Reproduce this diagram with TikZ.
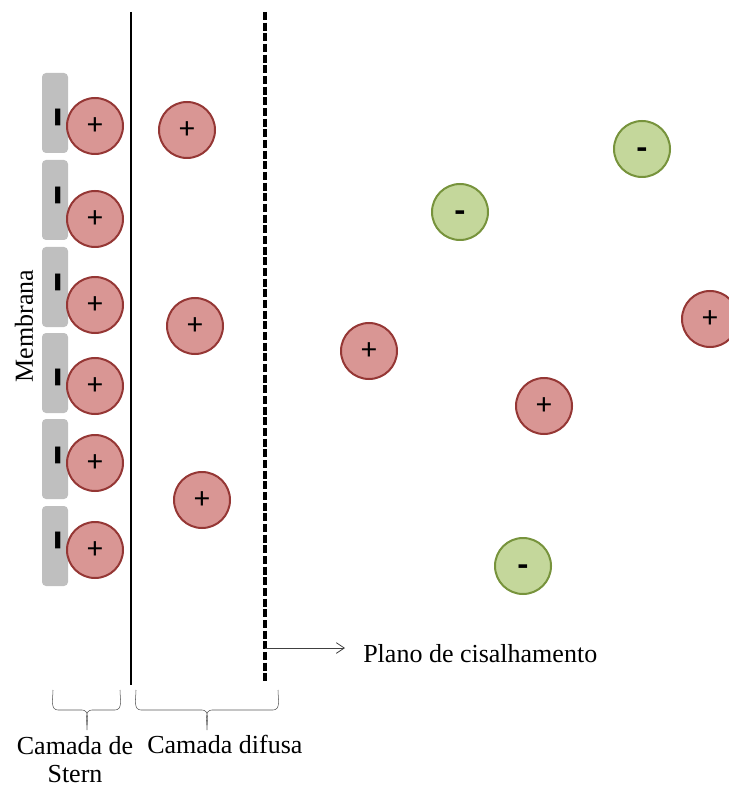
\documentclass[tikz,border=0pt]{standalone}
\usepackage{fontspec}
\setmainfont{Liberation Serif}
\newfontfamily\signfont{Carlito}
\usepackage{tikz}
\usetikzlibrary{shapes.geometric, arrows, arrows.meta}
\definecolor{catfill}{RGB}{217,150,148}
\definecolor{catdraw}{RGB}{149,55,53}
\definecolor{anfill}{RGB}{196,215,155}
\definecolor{andraw}{RGB}{119,147,60}
\definecolor{membgray}{RGB}{191,191,191}
\tikzstyle{cation} = [circle, draw=catdraw, fill=catfill, line width=1.5pt, minimum size=42pt, inner sep=0pt, font=\signfont\fontsize{23}{23}\selectfont]
\tikzstyle{anion} = [circle, draw=andraw, fill=anfill, line width=1.5pt, minimum size=42pt, inner sep=0pt, text height=15.6pt, text depth=0pt, font=\signfont\bfseries\fontsize{26}{26}\selectfont]
\tikzstyle{site} = [rectangle, rounded corners=3pt, fill=membgray, minimum width=19.5pt, minimum height=60pt, inner sep=0pt]
\tikzstyle{charge} = [rotate=90, inner sep=0pt, text height=32pt, text depth=0pt, font=\signfont\fontsize{54}{54}\selectfont]
\tikzstyle{layertext} = [inner sep=0pt, font=\fontsize{19.5}{21}\selectfont]
\tikzstyle{arrow} = [semithick,->,>={Straight Barb[length=6pt,width=8pt]}]

\begin{document}
\begin{tikzpicture}[x=0.75pt,y=-0.75pt]
\useasboundingbox (0,0) rectangle (728,787);

% membrane with adsorbed cations (Stern layer)
\foreach \i/\ys/\yb/\yc in {1/113/117/126, 2/200/195/219, 3/287/282/305, 4/373/377/386, 5/459/455/463, 6/546/540/550}
{
\node[site] (m\i) at (55,\ys) {};
\node[charge] (q\i) at (57,\yb) {-};
\node[cation] (s\i) at (95,\yc) {+};
}

\node[layertext, rotate=90] (membrana) at (24,326) {Membrana};

% Stern plane and shear plane
\draw[line width=2.2pt] (131,12) -- (131,685);
\draw[line width=2.4pt, dash pattern=on 6pt off 2pt] (265,12) -- (265,683);

% diffuse layer
\node[cation] (d1) at (187,130) {+};
\node[cation] (d2) at (195,326) {+};
\node[cation] (d3) at (202,500) {+};

% bulk solution
\node[cation] (b1) at (369,351) {+};
\node[cation] (b2) at (544,406) {+};
\node[cation] (b3) at (710,319) {+};
\node[anion] (a1) at (460,212) {-};
\node[anion] (a2) at (642,149) {-};
\node[anion] (a3) at (523,566) {-};

% shear plane label
\coordinate (shear) at (265,648);
\node[layertext, anchor=base west] (plano) at (363,662) {Plano de cisalhamento};
\draw[arrow, black!75] (shear) -- (345,648);

% braces
\draw[black!65, thin] (53,690) to[out=-90,in=180] (58,710) -- (82,710) to[out=0,in=90] (87,730)
  to[out=90,in=180] (92,710) -- (115,710) to[out=0,in=-90] (120,690);
\draw[black!65, thin] (136,690) to[out=-90,in=180] (141,710) -- (202,710) to[out=0,in=90] (207,730)
  to[out=90,in=180] (212,710) -- (273,710) to[out=0,in=-90] (278,690);

\node[layertext, align=center, anchor=north] (stern) at (75,736) {Camada de\\Stern};
\node[layertext, anchor=base west] (difusa) at (147,753) {Camada difusa};
\end{tikzpicture}
\end{document}
